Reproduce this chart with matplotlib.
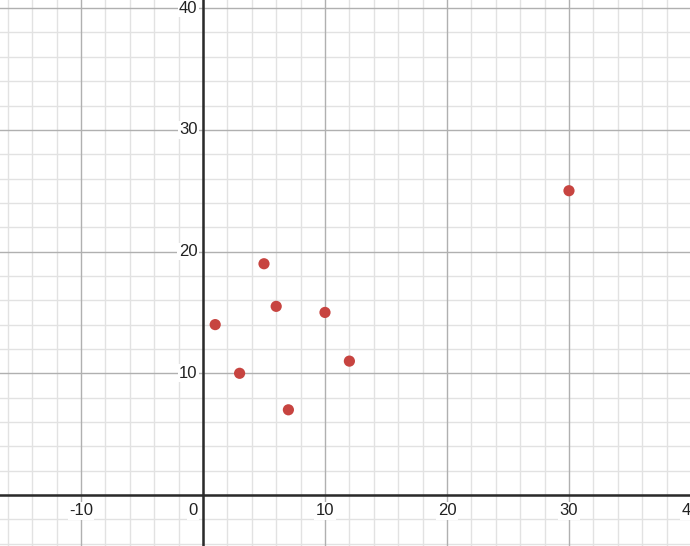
import numpy as np
import matplotlib.pyplot as plt

# points
xs = [1, 3, 5, 6, 7, 10, 12, 30]
ys = [14, 10, 19, 15.5, 7, 15, 11, 25]

x_labels = [-10, 10, 20, 30, 40]
y_labels = [10, 20, 30, 40]

fig = plt.figure(figsize=(6.9, 5.46), dpi=100)
ax = fig.add_axes([0, 0, 1, 1])
ax.set_xlim(-16.64, 39.92)
ax.set_ylim(-4.19, 40.67)

# grid
for v in np.arange(-16, 41, 2):
    if v % 10 == 0:
        ax.axvline(v, color='#b0b0b0', lw=1.0, zorder=1)
    else:
        ax.axvline(v, color='#e2e2e2', lw=1.0, zorder=0)
for v in np.arange(-4, 42, 2):
    if v % 10 == 0:
        ax.axhline(v, color='#b0b0b0', lw=1.0, zorder=1)
    else:
        ax.axhline(v, color='#e2e2e2', lw=1.0, zorder=0)

ax.axhline(0, color='#2a2a2a', lw=1.8, zorder=2)
ax.axvline(0, color='#2a2a2a', lw=1.8, zorder=2)

ax.scatter(xs, ys, s=65, color='#c74440', zorder=5, edgecolors='none')

ax.set_xticks([])
ax.set_yticks([])
for s in ax.spines.values():
    s.set_visible(False)

box = dict(facecolor='white', edgecolor='none', pad=1)
font = 'Liberation Sans'
for v in x_labels:
    ax.annotate(str(v), (v, 0), xytext=(0, -6), textcoords='offset points',
                ha='center', va='top', fontsize=12, family=font, color='#222222',
                bbox=box, zorder=4, annotation_clip=False)
ax.annotate('0', (0, 0), xytext=(-4, -6), textcoords='offset points',
            ha='right', va='top', fontsize=12, family=font, color='#222222',
            bbox=box, zorder=4)
for v in y_labels:
    ax.annotate(str(v), (0, v), xytext=(-4, 0), textcoords='offset points',
                ha='right', va='center', fontsize=12, family=font, color='#222222',
                bbox=box, zorder=4, annotation_clip=False)

fig.savefig('out.png', dpi=100)
